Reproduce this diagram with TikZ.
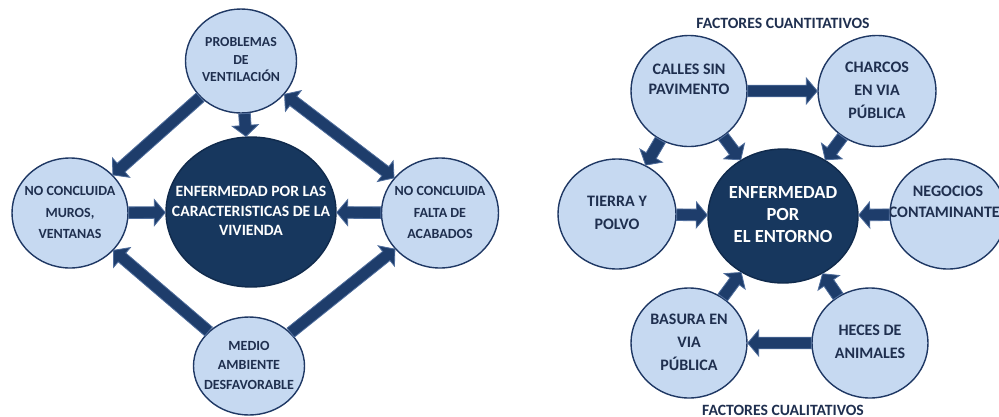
\documentclass[tikz,border=0pt]{standalone}
\usepackage{fontspec}
\setmainfont{Carlito}
\usetikzlibrary{shapes.geometric,calc}
\definecolor{cfill}{HTML}{C6D9F1}
\definecolor{cline}{HTML}{1F3864}
\definecolor{kfill}{HTML}{17375E}
\definecolor{kline}{HTML}{102A4C}
\definecolor{afill}{HTML}{1E3D6B}
\definecolor{aline}{HTML}{4F6D9C}
\definecolor{tcol}{HTML}{1F2F4F}
\newcommand\ctext[1]{\smash{\makebox[0pt]{\raisebox{-0.25em}{\begin{tabular}{@{}c@{}}#1\end{tabular}}}}}
\newcommand\barsw{5.8pt}
\newcommand\barhw{13pt}
\newcommand\barhl{11pt}
\newcommand\blockarrow[2]{%
  \path (#1) -- (#2) coordinate[pos=0] (bA) coordinate[pos=1] (bB);
  \coordinate (bH) at ($(bB)!\barhl!(bA)$);
  \draw[arrowbody] ($(bA)!\barsw!90:(bB)$) -- ($(bH)!\barsw!90:(bB)$) -- ($(bH)!\barhw!90:(bB)$) -- (bB)
    -- ($(bH)!\barhw!-90:(bB)$) -- ($(bH)!\barsw!-90:(bB)$) -- ($(bA)!\barsw!-90:(bB)$) -- cycle;}
\newcommand\dblockarrow[2]{%
  \path (#1) -- (#2) coordinate[pos=0] (bA) coordinate[pos=1] (bB);
  \coordinate (bH) at ($(bB)!\barhl!(bA)$);
  \coordinate (bG) at ($(bA)!\barhl!(bB)$);
  \draw[arrowbody] (bA) -- ($(bG)!\barhw!90:(bB)$) -- ($(bG)!\barsw!90:(bB)$) -- ($(bH)!\barsw!90:(bB)$)
    -- ($(bH)!\barhw!90:(bB)$) -- (bB) -- ($(bH)!\barhw!-90:(bB)$) -- ($(bH)!\barsw!-90:(bB)$)
    -- ($(bG)!\barsw!-90:(bB)$) -- ($(bG)!\barhw!-90:(bB)$) -- cycle;}
\tikzset{
  circ/.style={ellipse, draw=cline, line width=1.4pt, fill=cfill, inner sep=0pt, text=tcol},
  core/.style={ellipse, draw=kline, line width=1.4pt, fill=kfill, inner sep=0pt, text=white},
  arrowbody/.style={fill=afill, draw=aline, line width=0.8pt, line join=miter},
  ttl/.style={text=tcol, inner sep=0pt, font=\fontsize{15.7}{18}\selectfont\bfseries}
}
\begin{document}
\begin{tikzpicture}[x=1pt,y=-1pt]
\useasboundingbox (0,0) rectangle (999,416);
% ---------- left diagram ----------
\node[circ, minimum width=111pt, minimum height=104pt, font=\fontsize{13.8}{17.5}\selectfont\bfseries] (prob) at (241,61) {\ctext{PROBLEMAS\\DE\\VENTILACIÓN}};
\node[core, minimum width=170pt, minimum height=150pt, font=\fontsize{15.7}{19.2}\selectfont\bfseries] (enf1) at (251,212) {\ctext{ENFERMEDAD POR LAS\\CARACTERISTICAS DE LA\\VIVIENDA}};
\node[circ, minimum width=116pt, minimum height=110pt, font=\fontsize{14}{21.7}\selectfont\bfseries] (muros) at (70,213) {\ctext{NO CONCLUIDA\\MUROS,\\VENTANAS}};
\node[circ, minimum width=117pt, minimum height=110pt, font=\fontsize{14}{21.7}\selectfont\bfseries] (acab) at (440,213) {\ctext{NO CONCLUIDA\\FALTA DE\\ACABADOS}};
\node[circ, minimum width=111pt, minimum height=98pt, font=\fontsize{14}{19.5}\selectfont\bfseries] (medio) at (249,366) {\ctext{MEDIO\\AMBIENTE\\DESFAVORABLE}};
\blockarrow{prob}{enf1}
\blockarrow{prob}{muros}
\dblockarrow{prob}{acab}
\blockarrow{muros}{enf1}
\blockarrow{acab}{enf1}
\blockarrow{medio}{muros}
\blockarrow{medio}{acab}
% ---------- right diagram ----------
\node[ttl] (tq) at (783,23) {FACTORES CUANTITATIVOS};
\node[ttl, anchor=base] (tc) at (783,415.5) {FACTORES CUALITATIVOS};
\node[circ, minimum width=116pt, minimum height=111pt, font=\fontsize{16}{20}\selectfont\bfseries] (calles) at (689,91) {\ctext{CALLES SIN\\PAVIMENTO\\\mbox{}}};
\node[circ, minimum width=118pt, minimum height=111pt, font=\fontsize{16}{23}\selectfont\bfseries] (charcos) at (877,91) {\ctext{CHARCOS\\EN VIA\\PÚBLICA}};
\node[core, minimum width=150pt, minimum height=134pt, font=\fontsize{18.5}{22}\selectfont\bfseries] (enf2) at (783,216) {\ctext{ENFERMEDAD\\POR\\EL ENTORNO}};
\node[circ, minimum width=118pt, minimum height=110pt, font=\fontsize{16}{23}\selectfont\bfseries] (tierra) at (617,214) {\ctext{TIERRA Y\\POLVO}};
\node[circ, minimum width=116pt, minimum height=110pt, font=\fontsize{16}{21}\selectfont\bfseries] (negocios) at (948,214) {\ctext{NEGOCIOS\\CONTAMINANTES\\\mbox{}}};
\node[circ, minimum width=116pt, minimum height=110pt, font=\fontsize{16}{23}\selectfont\bfseries] (basura) at (689,343) {\ctext{BASURA EN\\VIA\\PÚBLICA}};
\node[circ, minimum width=116pt, minimum height=110pt, font=\fontsize{16}{23}\selectfont\bfseries] (heces) at (870,343) {\ctext{HECES DE\\ANIMALES}};
\blockarrow{calles}{charcos}
\blockarrow{calles}{tierra}
\blockarrow{calles}{enf2}
\blockarrow{charcos}{enf2}
\blockarrow{tierra}{enf2}
\blockarrow{negocios}{enf2}
\blockarrow{basura}{enf2}
\blockarrow{heces}{enf2}
\blockarrow{heces}{basura}
\end{tikzpicture}
\end{document}
